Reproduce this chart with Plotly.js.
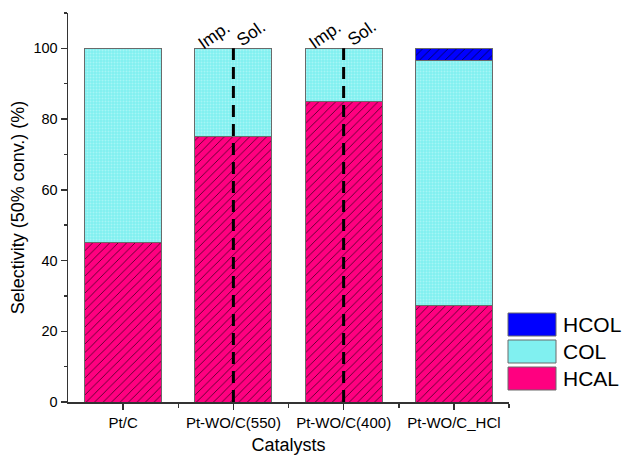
<!DOCTYPE html>
<html>
<head>
<meta charset="utf-8">
<script src="https://cdn.plot.ly/plotly-3.0.1.min.js"></script>
<style>html,body{margin:0;padding:0;background:#fff;}#chart{width:624px;height:455px;}</style>
</head>
<body>
<div id="chart"></div>
<script>
const categories = ["Pt/C", "Pt-WO/C(550)", "Pt-WO/C(400)", "Pt-WO/C_HCl"];
const hcal = [45, 75, 85, 27.3];
const col = [55, 25, 15, 69.4];
const hcol = [null, null, null, 3.3];
const dividedCategories = ["Pt-WO/C(550)", "Pt-WO/C(400)"];
const leftLabel = "Imp.";
const rightLabel = "Sol.";
const yTicks = [0, 20, 40, 60, 80, 100];

const FONT = "Liberation Sans, Arial, sans-serif";
const xIdx = categories.map((c, i) => i);
const pinkC = "#FF0080", cyanC = "#80F0F0", blueC = "#0000FF";
const edge = {color: "#6a6a6a", width: 1};

const traces = [
  {type: "bar", name: "HCAL", x: xIdx, y: hcal, width: 0.7,
   marker: {color: pinkC, line: edge, pattern: {shape: "/", fgcolor: "#000", bgcolor: pinkC, size: 6, solidity: 0.1}},
   showlegend: false, hoverinfo: "none"},
  {type: "bar", name: "COL", x: xIdx, y: col, width: 0.7,
   marker: {color: cyanC, line: edge, pattern: {shape: ".", fgcolor: "#a6f5f5", bgcolor: cyanC, size: 3, solidity: 0.35}},
   showlegend: false, hoverinfo: "none"},
  {type: "bar", name: "HCOL", x: xIdx, y: hcol, width: 0.7,
   marker: {color: blueC, line: edge, pattern: {shape: "/", fgcolor: "#000", bgcolor: blueC, size: 6, solidity: 0.1}},
   showlegend: false, hoverinfo: "none"}
];

const shapes = [];
const annotations = [];
dividedCategories.forEach(c => {
  const i = categories.indexOf(c);
  const top = (hcal[i] || 0) + (col[i] || 0) + (hcol[i] || 0);
  shapes.push({type: "line", xref: "x", yref: "y", x0: i, x1: i, y0: 0, y1: top,
    line: {color: "#000", width: 3, dash: "12px,7px"}, layer: "above"});
  annotations.push({xref: "x", yref: "y", x: i, y: top, text: leftLabel, showarrow: false,
    textangle: -35, xanchor: "center", yanchor: "middle", xshift: -19, yshift: 13,
    font: {family: FONT, size: 17.5, color: "#000"}});
  annotations.push({xref: "x", yref: "y", x: i, y: top, text: rightLabel, showarrow: false,
    textangle: -35, xanchor: "center", yanchor: "middle", xshift: 18, yshift: 15,
    font: {family: FONT, size: 17.5, color: "#000"}});
});

// legend (manual, large swatches)
const L = 68, R = 509, T = 13, B = 402;
const px = v => (v - L) / (R - L);
const py = v => (B - v) / (B - T);
const legendItems = [
  {name: "HCOL", color: blueC},
  {name: "COL", color: cyanC},
  {name: "HCAL", color: pinkC}
];
legendItems.forEach((it, k) => {
  const y0 = 313 + k * 27;
  shapes.push({type: "rect", xref: "paper", yref: "paper", x0: px(508), x1: px(556), y0: py(y0 + 23), y1: py(y0),
    fillcolor: it.color, line: {color: "#6a6a6a", width: 1}});
  annotations.push({xref: "paper", yref: "paper", x: px(561), y: py(y0 + 11.5), text: it.name, showarrow: false,
    xanchor: "left", yanchor: "middle", font: {family: FONT, size: 21, color: "#000"}});
});

const axisLine = {showline: true, linecolor: "#333", linewidth: 1.5, ticks: "outside", tickcolor: "#333", tickwidth: 1.5};

const layout = {
  width: 624, height: 455,
  margin: {l: L, r: 624 - R, t: T, b: 455 - B, pad: 0},
  paper_bgcolor: "#fff", plot_bgcolor: "#fff",
  barmode: "stack",
  showlegend: false,
  font: {family: FONT, color: "#000"},
  xaxis: Object.assign({}, axisLine, {
    range: [-0.5, 3.5], tickvals: xIdx, ticktext: categories, ticklen: 6,
    tickfont: {family: FONT, size: 15, color: "#000"}, showgrid: false, zeroline: false,
    minor: {tickvals: [0.5, 1.5, 2.5, 3.5], ticks: "outside", ticklen: 4, tickwidth: 1.5, tickcolor: "#333", showgrid: false},
    title: {text: "Catalysts", font: {family: FONT, size: 18, color: "#000"}, standoff: 9},
    automargin: false
  }),
  yaxis: Object.assign({}, axisLine, {
    range: [0, 110], tickvals: yTicks, ticklen: 6,
    tickfont: {family: FONT, size: 14.5, color: "#000"}, showgrid: false, zeroline: false,
    minor: {dtick: 10, tick0: 0, ticks: "outside", ticklen: 3, tickwidth: 1.5, tickcolor: "#333", showgrid: false},
    title: {text: "Selectivity (50% conv.) (%)", font: {family: FONT, size: 18, color: "#000"}, standoff: 4},
    automargin: false
  }),
  shapes: shapes,
  annotations: annotations
};

Plotly.newPlot("chart", traces, layout, {displayModeBar: false, staticPlot: true});
</script>
</body>
</html>
